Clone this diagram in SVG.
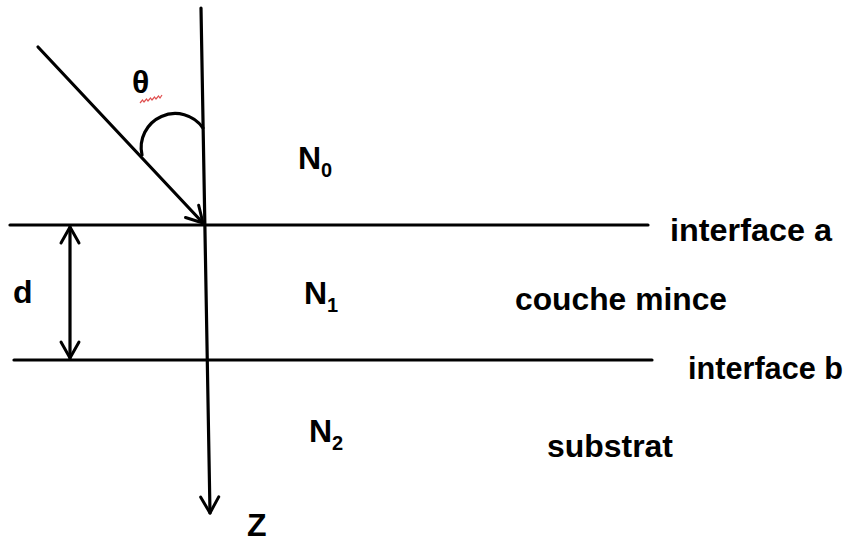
<svg xmlns="http://www.w3.org/2000/svg" width="856" height="542" viewBox="0 0 856 542">
  <defs>
    <marker id="arr" markerUnits="userSpaceOnUse" markerWidth="24" markerHeight="24" viewBox="-20 -12 24 24" refX="0" refY="0" orient="auto-start-reverse">
      <path d="M-16,-9 L0,0 L-16,9" fill="none" stroke="#000" stroke-width="3" stroke-linecap="round" stroke-linejoin="round"/>
    </marker>
    <style>
      .ln { stroke: #000; stroke-width: 3.2; fill: none; stroke-linecap: round; }
      .lbl { font-family: "Liberation Sans", Arial, sans-serif; font-weight: bold; font-size: 32px; fill: #000; }
      .sub { font-size: 20px; }
    </style>
  </defs>
  <rect width="856" height="542" fill="#fff"/>

  <g id="connectors">
    <line id="axis-z" class="ln" x1="201" y1="8" x2="210" y2="513" marker-end="url(#arr)"/>
    <line id="incident-ray" class="ln" x1="38" y1="47" x2="203" y2="223" marker-end="url(#arr)"/>
    <path id="angle-arc" class="ln" stroke-width="2.5" d="M142,155 A34,34 0 0 1 203,128"/>
    <line id="interface-a-line" class="ln" x1="10" y1="225" x2="648" y2="225"/>
    <line id="interface-b-line" class="ln" x1="14" y1="360" x2="652" y2="360"/>
    <line id="thickness-d" class="ln" x1="70" y1="227" x2="70" y2="358" marker-start="url(#arr)" marker-end="url(#arr)"/>
  </g>

  <g id="theta">
    <text class="lbl" x="132" y="93" font-size="31">θ</text>
    <path d="M140,103 l2.5,-3 l1.5,2 l2.5,-3 l1.5,2 l2.5,-3 l1.5,2 l2.5,-3 l1.5,2 l2.5,-3 l1.5,2 l2,-3" fill="none" stroke="#e05050" stroke-width="1.2"/>
  </g>
  <g id="label-d"><text class="lbl" x="13" y="303">d</text></g>
  <g id="label-z"><text class="lbl" x="247" y="536">Z</text></g>

  <g id="N0"><text class="lbl" x="298" y="169">N<tspan class="sub" dy="8">0</tspan></text></g>
  <g id="N1"><text class="lbl" x="304" y="304">N<tspan class="sub" dy="8">1</tspan></text></g>
  <g id="N2"><text class="lbl" x="309" y="442">N<tspan class="sub" dy="8">2</tspan></text></g>

  <g id="interface-a"><text class="lbl" x="670" y="241" textLength="162" lengthAdjust="spacingAndGlyphs">interface a</text></g>
  <g id="couche-mince"><text class="lbl" x="515" y="310" textLength="212" lengthAdjust="spacingAndGlyphs">couche mince</text></g>
  <g id="interface-b"><text class="lbl" x="688" y="379" textLength="155" lengthAdjust="spacingAndGlyphs">interface b</text></g>
  <g id="substrat"><text class="lbl" x="547" y="457" textLength="126" lengthAdjust="spacingAndGlyphs">substrat</text></g>
</svg>
